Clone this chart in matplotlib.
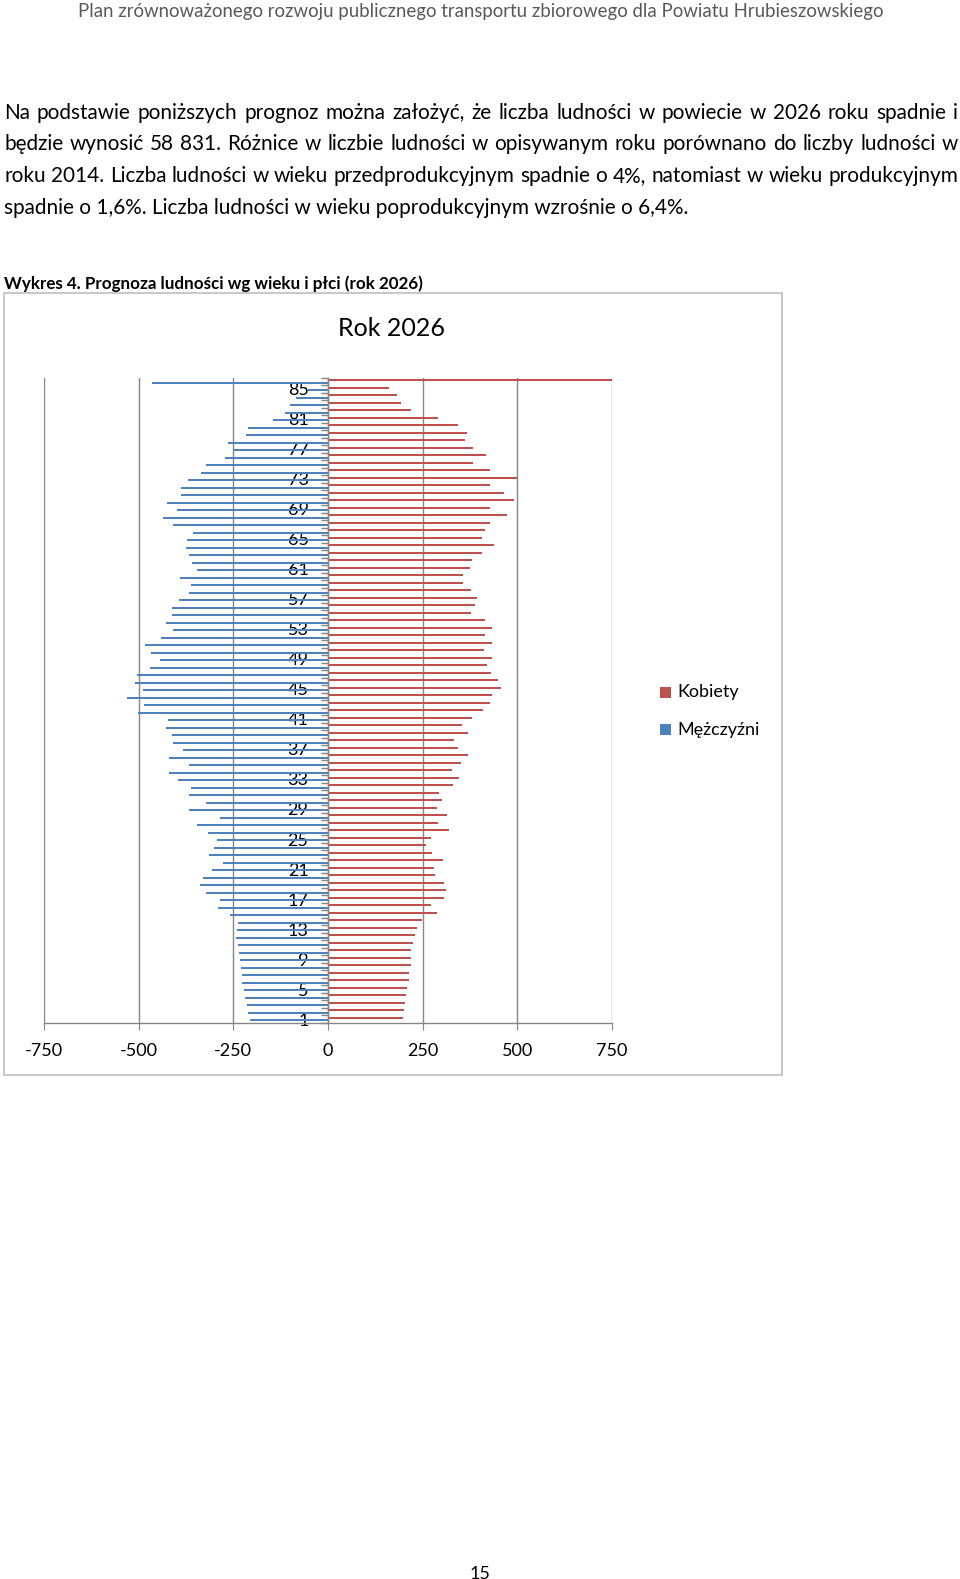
import matplotlib
matplotlib.use('Agg')
import matplotlib.pyplot as plt
from matplotlib.patches import Rectangle
import numpy as np

plt.rcParams['font.family'] = ['Lato', 'DejaVu Sans']

# ---------------- data ----------------
age_labels = [str(i) for i in range(1, 87)]
men = [-206, -211, -214, -218, -221, -226, -227, -231, -232, -234,
       -238, -243, -240, -238, -259, -290, -286, -322, -337, -330,
       -307, -278, -314, -302, -293, -317, -346, -286, -366, -323,
       -367, -363, -396, -419, -366, -419, -383, -410, -413, -428,
       -422, -503, -485, -532, -489, -510, -505, -469, -443, -468,
       -482, -441, -409, -429, -411, -411, -394, -367, -363, -390,
       -346, -360, -367, -374, -372, -356, -409, -436, -398, -424,
       -387, -387, -370, -336, -322, -271, -248, -263, -217, -210,
       -146, -114, -100, -85, -52, -464]
women = [199, 200, 203, 205, 208, 213, 214, 218, 219, 220,
         224, 229, 234, 249, 289, 271, 307, 312, 306, 282,
         280, 305, 274, 258, 272, 320, 291, 313, 289, 300,
         292, 330, 345, 328, 352, 371, 344, 333, 369, 355,
         381, 409, 427, 432, 456, 448, 430, 420, 432, 411,
         432, 414, 433, 415, 377, 389, 393, 378, 356, 357,
         376, 380, 406, 439, 408, 414, 428, 474, 428, 492,
         466, 429, 500, 429, 383, 416, 384, 363, 367, 343,
         290, 218, 193, 181, 161, 754]
x_ticks = [-750, -500, -250, 0, 250, 500, 750]
series_names = ['Kobiety', 'Mężczyźni']
colors = ['#C0504D', '#4F81BD']

header = 'Plan zrównoważonego rozwoju publicznego transportu zbiorowego dla Powiatu Hrubieszowskiego'
body = ['Na podstawie poniższych prognoz można założyć, że liczba ludności w powiecie w 2026 roku spadnie i',
        'będzie wynosić 58 831. Różnice w liczbie ludności w opisywanym roku porównano do liczby ludności w',
        'roku 2014. Liczba ludności w wieku przedprodukcyjnym spadnie o 4%, natomiast w wieku produkcyjnym',
        'spadnie o 1,6%. Liczba ludności w wieku poprodukcyjnym wzrośnie o 6,4%.']
caption = 'Wykres 4. Prognoza ludności wg wieku i płci (rok 2026)'
chart_title = 'Rok 2026'
page_no = '15'

# ---------------- figure ----------------
W, H = 960, 1579
fig = plt.figure(figsize=(W / 100, H / 100), dpi=100)
fig.patch.set_facecolor('white')
renderer = fig.canvas.get_renderer()


def fx(x):
    return x / W


def fy(y):
    return 1 - y / H


def text_width(s, fs, weight='normal'):
    t = fig.text(0, 0, s, fontsize=fs, fontweight=weight)
    w = t.get_window_extent(renderer).width
    t.remove()
    return w


def fit_fs(s, target, weight='normal', fs0=14):
    return fs0 * target / text_width(s, fs0, weight)


def justify(s, y, x0, x1, fs, color='black'):
    words = s.split(' ')
    widths = [text_width(w, fs) for w in words]
    gap = (x1 - x0 - sum(widths)) / (len(words) - 1)
    x = x0
    for w, wd in zip(words, widths):
        fig.text(fx(x), fy(y), w, fontsize=fs, va='center', ha='left', color=color)
        x += wd + gap


# header
hfs = fit_fs(header, 808)
fig.text(fx(480.5), fy(11), header, fontsize=hfs, ha='center', va='center', color='#595959')

# body text
bfs = fit_fs(body[3], 687)
line_y = [113, 144, 176, 207.5]
for i in range(3):
    justify(body[i], line_y[i], 4, 958, bfs)
fig.text(fx(4), fy(line_y[3]), body[3], fontsize=bfs, ha='left', va='center', color='black')

# caption
cfs = fit_fs(caption, 421, weight='bold')
fig.text(fx(4), fy(284), caption, fontsize=cfs, fontweight='bold', ha='left', va='center')

# chart frame
fig.patches.append(Rectangle((fx(4), fy(1075)), fx(782) - fx(4), fy(293) - fy(1075),
                             transform=fig.transFigure, fill=False, edgecolor='#BFBFBF', lw=1.2))

fig.text(fx(392), fy(329), chart_title, fontsize=18, ha='center', va='center')

# axes
top_px, bot_px = 377.75, 1022.75
ax = fig.add_axes([fx(44), fy(bot_px), fx(612) - fx(44), (bot_px - top_px) / H])
pos = np.arange(len(age_labels))
ax.barh(pos + 0.17, women, height=0.3, color=colors[0], zorder=2)
ax.barh(pos - 0.17, men, height=0.3, color=colors[1], zorder=2)
ax.set_xlim(-750, 750)
ax.set_ylim(-0.5, len(age_labels) - 0.5)
grey = '#868686'
ax.spines['left'].set_position(('data', 0))
for s in ['top', 'right']:
    ax.spines[s].set_visible(False)
for s in ['left', 'bottom']:
    ax.spines[s].set_color(grey)
    ax.spines[s].set_linewidth(1)
ax.set_xticks(x_ticks)
ax.set_xticklabels([str(v) for v in x_ticks])
ax.grid(axis='x', color=grey, lw=1, zorder=1)
ax.set_axisbelow(True)
ax.tick_params(axis='x', length=5, color=grey, labelsize=13, pad=9.5)
ax.set_yticks(pos[::4])
ax.set_yticklabels(age_labels[::4])
ax.set_yticks(np.arange(-0.5, len(age_labels), 1), minor=True)
ax.tick_params(axis='y', which='major', length=0, labelsize=13, pad=14)
ax.tick_params(axis='y', which='minor', length=5, color=grey, width=1)
for lbl in ax.get_yticklabels():
    lbl.set_zorder(5)

# legend
leg_y = [692.5, 729.5]
for name, col, yy in zip(series_names, colors, leg_y):
    fig.patches.append(Rectangle((fx(660), fy(yy + 5.5)), 11 / W, 11 / H,
                                 transform=fig.transFigure, facecolor=col, edgecolor='none'))
    fig.text(fx(677), fy(yy), name, fontsize=13, ha='left', va='center')

fig.text(fx(480), fy(1574), page_no, fontsize=13, ha='center', va='center')

fig.savefig('out.png', dpi=100)
